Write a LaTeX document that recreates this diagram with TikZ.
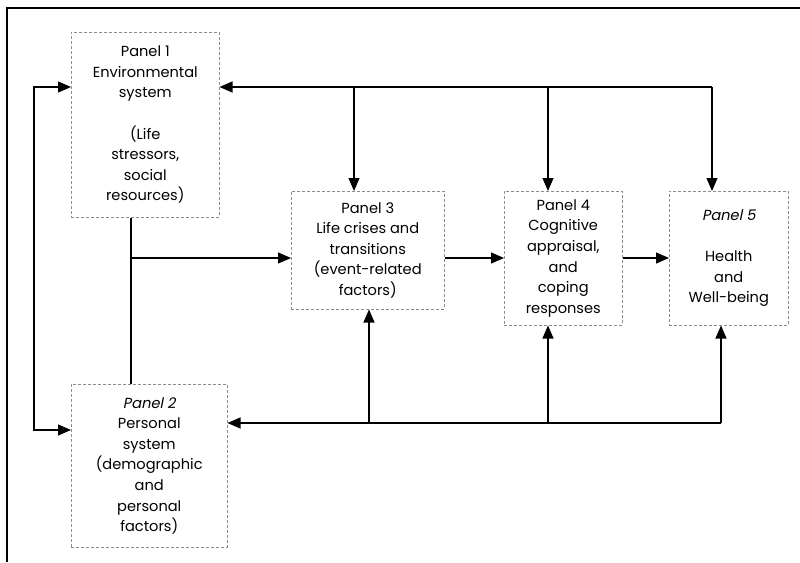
\documentclass[tikz,border=0pt]{standalone}
\usepackage{fontspec}
\setmainfont{Poppins}
\newfontfamily\slantpop[FakeSlant=0.2]{Poppins}
\usetikzlibrary{arrows.meta}

\begin{document}
\begin{tikzpicture}[x=1pt,y=-1pt,
  panel/.style={draw=black!45, densely dashed, line width=0.5pt, align=center,
    font=\fontsize{14.6}{20.6}\selectfont, inner sep=0pt, anchor=north west},
  conn/.style={line width=1.1pt},
  arr/.style={conn, -{Triangle[length=13pt,width=11pt]}},
  arrboth/.style={conn, {Triangle[length=13pt,width=11pt]}-{Triangle[length=13pt,width=11pt]}}]
\useasboundingbox (0,0) rectangle (800,562);

% outer frame (top and left rules)
\draw[line width=1.8pt] (7,562) -- (7,8) -- (800,8);

% panels
\node[panel, minimum width=148, minimum height=185] (p1) at (71,32)
  {Panel 1\\Environmental\\system\\[20.6pt](Life\\stressors,\\social\\resources)};
\node[panel, minimum width=156, minimum height=163] (p2) at (71,384)
  {{\slantpop Panel 2}\\Personal\\system\\(demographic\\and\\personal\\factors)};
\node[panel, minimum width=153, minimum height=118] (p3) at (291,191)
  {Panel 3\\Life crises and\\transitions\\(event-related\\factors)};
\node[panel, minimum width=118, minimum height=134] (p4) at (504,191)
  {Panel 4\\Cognitive\\appraisal,\\and\\coping\\responses};
\node[panel, minimum width=119, minimum height=134] (p5) at (669,191)
  {{\slantpop Panel 5}\\[20.6pt]Health\\and\\Well-being};

% top feedback bus
\coordinate (tR) at (712,87);
\coordinate (t3) at (354,87);
\coordinate (t4) at (548,87);
\draw[arr] (tR) -- (p1.east |- tR);
\draw[arr] (tR) -- (tR |- p5.north);
\draw[arr] (t3) -- (t3 |- p3.north);
\draw[arr] (t4) -- (t4 |- p4.north);

% bottom feedback bus
\coordinate (bR) at (721,423);
\coordinate (b3) at (369,423);
\coordinate (b4) at (548,423);
\draw[arr] (bR) -- (p2.east |- bR);
\draw[arr] (bR) -- (bR |- p5.south);
\draw[arr] (b3) -- (b3 |- p3.south);
\draw[arr] (b4) -- (b4 |- p4.south);

% loop between panels 1 and 2
\coordinate (l1) at (34,87);
\coordinate (l2) at (34,430);
\draw[arrboth] (p1.west |- l1) -- (l1) -- (l2) -- (p2.west |- l2);

% forward path
\coordinate (m) at (131,258);
\draw[conn] (p1.south -| m) -- (p2.north -| m);
\draw[arr] (m) -- (p3.west |- m);
\draw[arr] (p3.east |- m) -- (p4.west |- m);
\draw[arr] (p4.east |- m) -- (p5.west |- m);
\end{tikzpicture}
\end{document}
